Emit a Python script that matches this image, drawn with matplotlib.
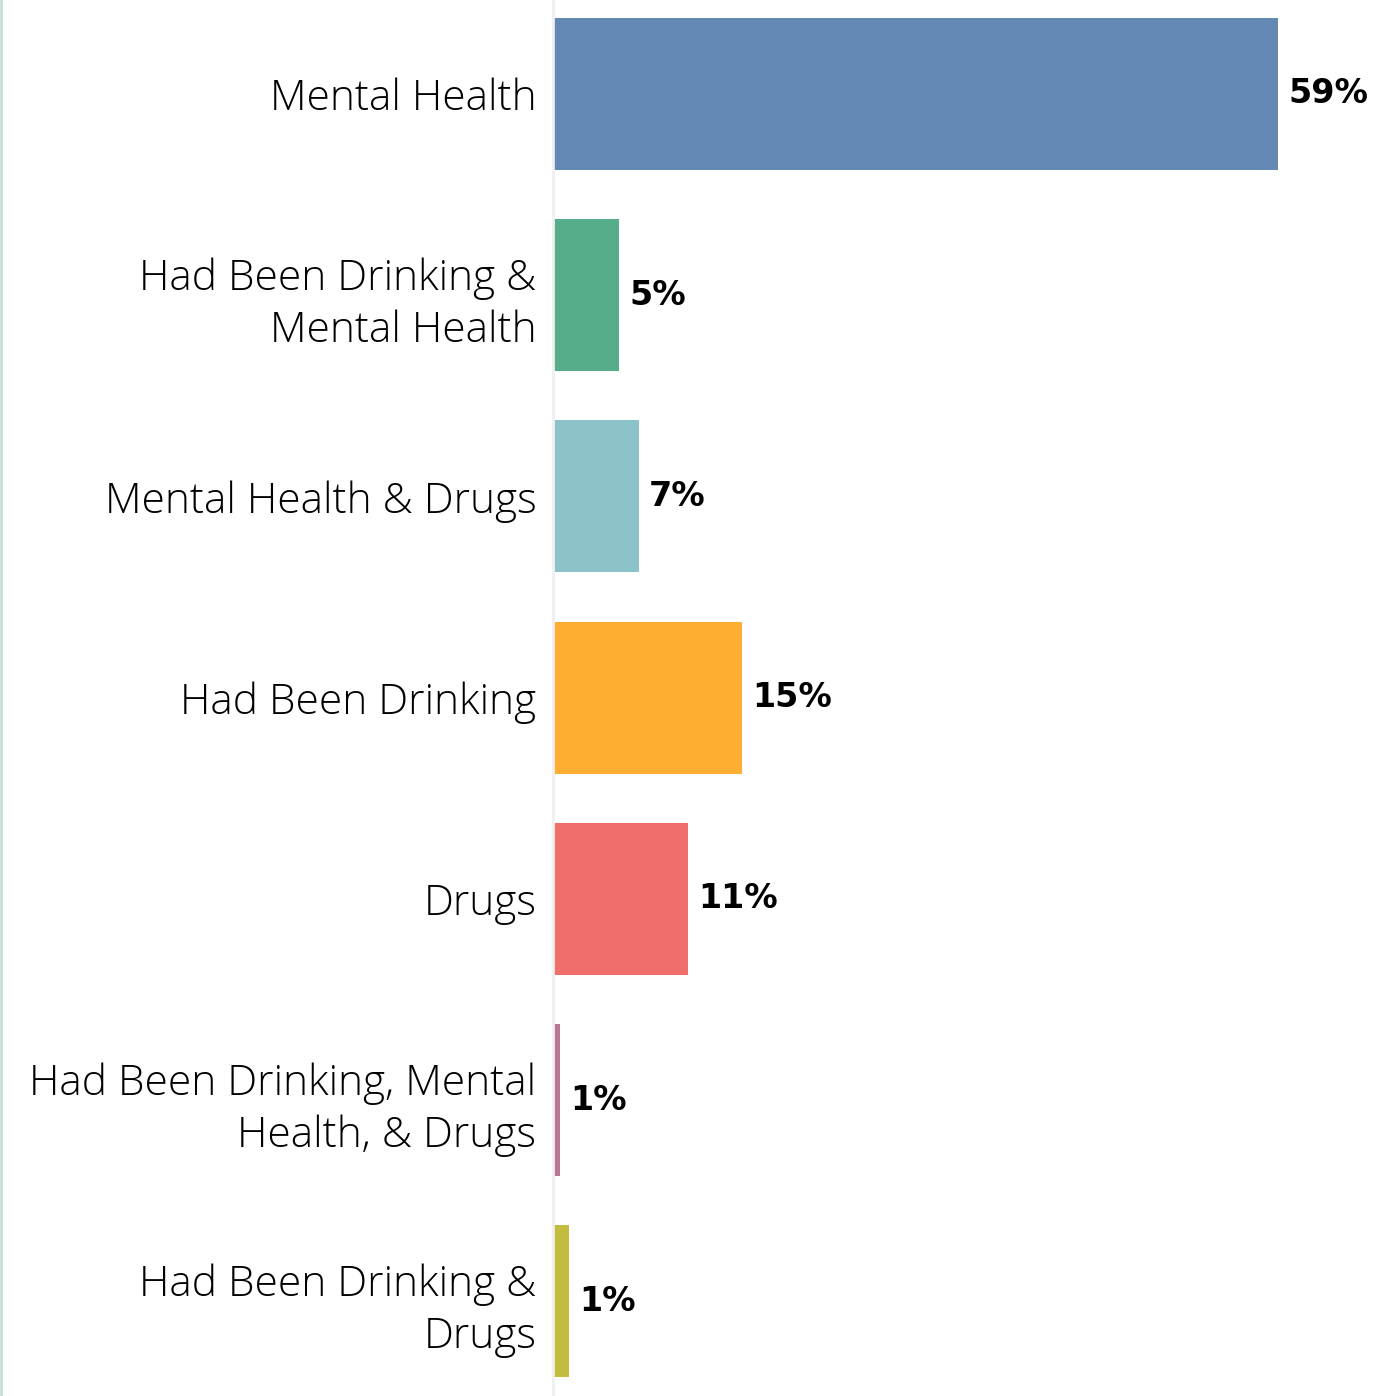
import matplotlib.pyplot as plt
from matplotlib.lines import Line2D

categories = [
    "Mental Health",
    "Had Been Drinking &\nMental Health",
    "Mental Health & Drugs",
    "Had Been Drinking",
    "Drugs",
    "Had Been Drinking, Mental\nHealth, & Drugs",
    "Had Been Drinking &\nDrugs",
]
values = [59.0, 5.4, 7.0, 15.4, 11.0, 0.6, 1.3]
colors = ["#6388b4", "#55ad89", "#8cc2ca", "#ffae34", "#ef6f6a", "#bb7693", "#c3bc3f"]

fig = plt.figure(figsize=(13.78, 13.96), dpi=100)
ax = fig.add_axes([553 / 1378, 0, 1 - 553 / 1378, 1])

y = list(range(len(categories)))
ax.barh(y, values, height=0.755, color=colors)
ax.set_xlim(0, 67.1)
ax.set_ylim(6.47, -0.467)

for yi, v in zip(y, values):
    ax.text(v + 0.8, yi, f"{round(v):.0f}%", va="center", ha="left",
            fontsize=24, fontweight="bold", color="black")

ax.set_yticks(y)
ax.set_yticklabels(categories, fontsize=30.5, fontfamily="Open Sans", fontweight="light",
                   color="black", linespacing=1.28)
ax.tick_params(axis="y", length=0, pad=12)
ax.set_xticks([])
for side in ["top", "right", "bottom"]:
    ax.spines[side].set_visible(False)
ax.spines["left"].set_color("#f0f0f0")
ax.spines["left"].set_linewidth(2)

# thin border at the very left of the figure
fig.add_artist(Line2D([0.0008, 0.0008], [0, 1], transform=fig.transFigure,
                      color="#c9dcd8", linewidth=2))

fig.savefig("out.png", dpi=100)
